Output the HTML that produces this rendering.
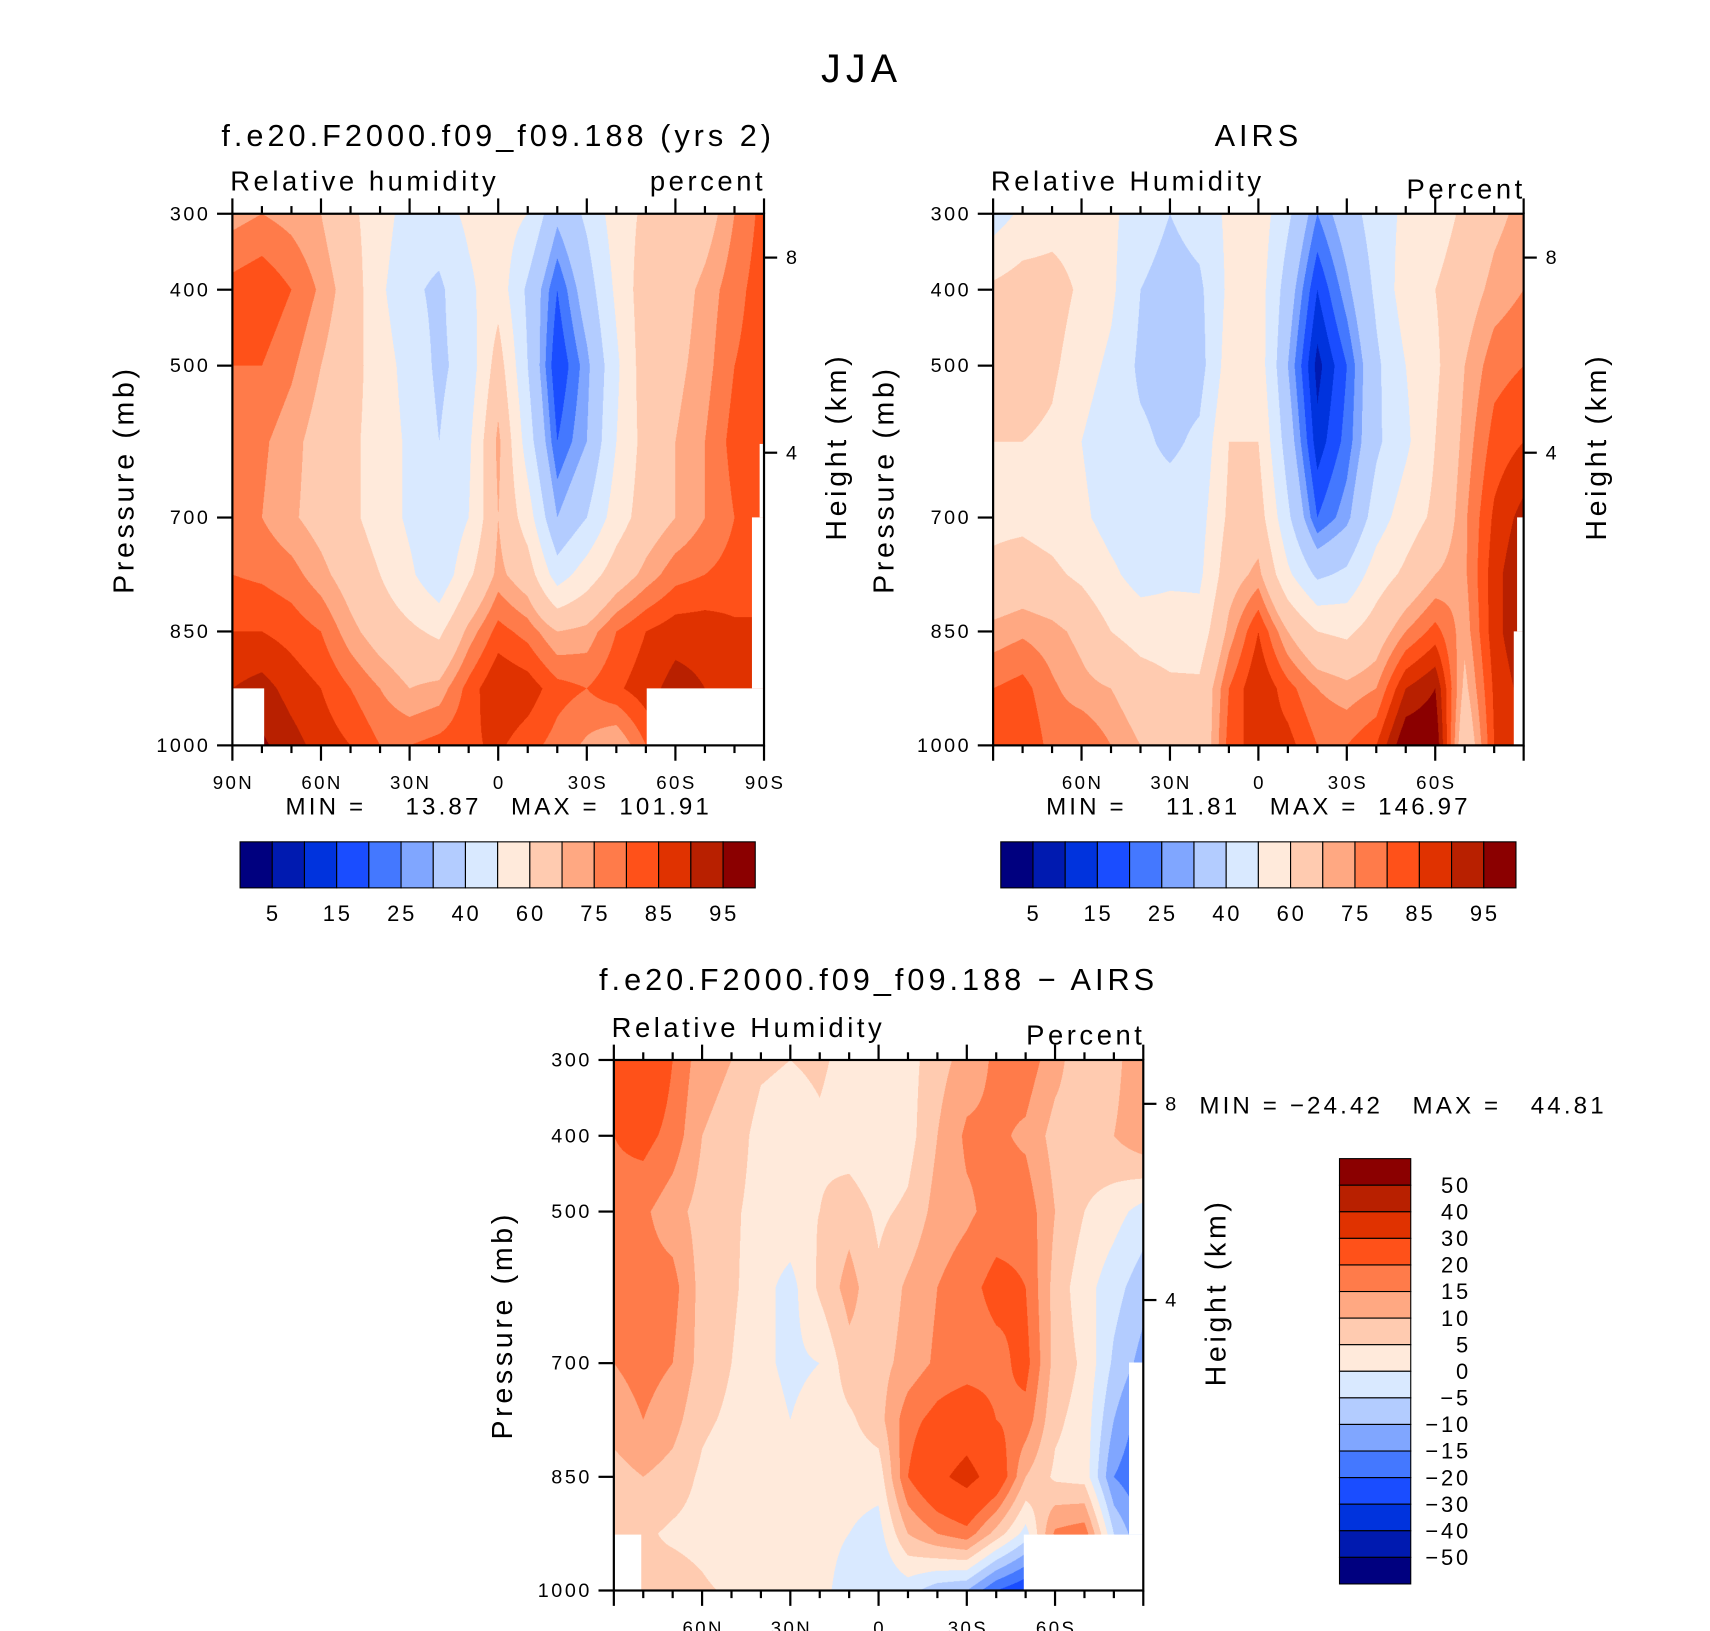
<!DOCTYPE html>
<html><head><meta charset="utf-8">
<style>
html,body{margin:0;padding:0;background:#fff;}
body{width:1710px;height:1631px;overflow:hidden;position:relative;}
#stage{position:absolute;left:0;top:0;width:1560px;height:1488px;transform:scale(1.09615);transform-origin:0 0;}
canvas{position:absolute;}
svg{position:absolute;left:0;top:0;}
text{font-family:"Liberation Sans",sans-serif;fill:#000;white-space:pre;letter-spacing:0.13em;}
</style></head>
<body>
<div id="stage">
<canvas id="c1"></canvas>
<canvas id="c2"></canvas>
<canvas id="c3"></canvas>
<svg id="ov" width="1560" height="1488" viewBox="0 0 1560 1488"></svg>
</div>
<script>
// ---- data ----
const lats = [90,80,70,60,50,40,30,20,10,0,-10,-20,-30,-40,-50,-60,-70,-80,-90];
const levels = [300,400,500,600,700,775,850,925,1000];
const pTicks = [300,400,500,700,850,1000];
const latTickLabels = ["90N","60N","30N","0","30S","60S","90S"];
const latTickVals = [90,60,30,0,-30,-60,-90];
const rhBounds = [5,10,15,20,25,30,40,50,60,70,75,80,85,90,95];
const rhLabels = ["5","15","25","40","60","75","85","95"];
const diffBounds = [-50,-40,-30,-20,-15,-10,-5,0,5,10,15,20,30,40,50];
const diffLabels = ["50","40","30","20","15","10","5","0","\u22125","\u221210","\u221215","\u221220","\u221230","\u221240","\u221250"];
const colors = ["#00007f","#001ab0","#0033dd","#1a4dff","#4478ff","#80a6ff","#b3ccff","#d9e9ff","#ffeadb","#ffcbb0","#ffa882","#ff7b4a","#ff5119","#e03200","#b82000","#8b0000"];
// rows: per latitude, values at levels 300..1000
const modelRH = [
[73,82,80,77,77,80,85,90,93],[75,84,80,76,75,79,85,92,96],[73,80,76,72,71,77,83,88,92],
[70,74,70,67,67,72,80,85,88],[62,66,64,62,62,66,72,80,85],[55,52,55,56,56,60,66,75,80],
[45,42,46,48,48,52,62,70,80],[46,38,38,40,40,42,58,72,82],[52,48,44,48,50,58,72,82,84],
[55,56,65,72,70,72,82,90,86],[50,38,40,45,55,65,78,88,82],[32,20,15,20,30,45,70,82,78],
[42,35,28,30,40,55,72,80,74],[55,52,48,50,55,65,80,84,70],[62,66,66,64,65,72,85,88,80],
[60,66,68,70,70,78,88,92,80],[66,72,73,75,75,80,88,90,80],[75,78,80,82,80,82,86,88,80],
[82,83,83,85,85,85,85,85,85]];
const airsRH = [
[45,62,65,60,58,62,72,80,82],[52,65,66,60,58,64,74,82,85],[55,65,62,58,56,62,72,76,78],
[55,58,54,50,52,58,68,72,80],[52,52,48,44,46,52,60,70,75],[45,40,38,42,44,46,56,65,70],
[40,36,36,38,45,48,55,62,66],[44,38,36,42,46,48,54,62,62],[52,52,55,60,62,66,72,80,82],
[56,55,56,60,65,72,85,90,88],[42,35,30,35,42,52,70,82,87],[25,15,8,12,20,38,60,75,80],
[35,28,20,22,28,42,58,72,80],[45,42,38,38,45,55,65,75,85],[52,55,50,48,55,62,75,90,100],
[55,60,58,60,62,70,82,95,100],[62,66,70,72,74,74,72,68,62],[68,72,78,82,86,88,88,86,85],
[72,75,80,85,92,95,95,92,90]];
const diffRH = [
[30,20,18,15,15,12,8,5,5],[28,22,16,17,17,15,10,6,6],[20,18,12,17,15,12,8,4,8],
[12,10,8,8,8,6,4,3,6],[10,8,6,6,5,4,2,0,4],[6,3,3,2,1,2,2,3,4],
[5,2,4,-2,-1,0,3,4,2],[6,4,5,6,0,2,4,2,2],[3,2,8,12,8,4,2,0,-3],
[2,0,4,6,8,8,2,-2,-5],[3,3,6,11,12,18,20,10,-3],[8,10,12,15,16,22,28,15,-8],
[12,16,14,18,17,25,33,18,-10],[16,16,17,22,18,20,26,8,-20],[18,14,18,20,22,18,10,-2,-25],
[12,8,10,8,8,6,4,16,-20],[6,8,5,2,4,3,3,18,10],[8,10,2,-3,-6,-10,-15,-5,0],
[15,14,-2,-8,-12,-18,-20,-15,-10]];

// ---- helpers ----
const svg = document.getElementById('ov');
const NS = 'http://www.w3.org/2000/svg';
function mk(tag, attrs){const e=document.createElementNS(NS,tag);for(const k in attrs)e.setAttribute(k,attrs[k]);svg.appendChild(e);return e;}
function txt(x,y,s,size,anchor,rot){const t=mk('text',{x:x,y:y,'font-size':size,'text-anchor':anchor||'middle'});if(rot)t.setAttribute('transform','rotate(-90 '+x+' '+y+')');t.textContent=s;return t;}
function bandIndex(v,b){let i=0;while(i<b.length&&v>=b[i])i++;return i;}
function hex2rgb(h){return [parseInt(h.substr(1,2),16),parseInt(h.substr(3,2),16),parseInt(h.substr(5,2),16)];}
const rgb = colors.map(hex2rgb);

function drawField(id,data,bounds,P){
  const c=document.getElementById(id);const S=2;
  c.style.left=P.x+'px';c.style.top=P.y+'px';c.style.width=P.w+'px';c.style.height=P.h+'px';
  c.width=P.w*S;c.height=P.h*S;const ctx=c.getContext('2d');
  const img=ctx.createImageData(c.width,c.height);
  for(let j=0;j<c.height;j++){
    const p=300+(j+0.5)/c.height*700;let r=0;while(r<levels.length-2&&p>levels[r+1])r++;
    const fy=(p-levels[r])/(levels[r+1]-levels[r]);
    for(let i=0;i<c.width;i++){
      const lx=(i+0.5)/c.width*(lats.length-1);let k=Math.min(Math.floor(lx),lats.length-2);const fx=lx-k;
      const v=(data[k][r]*(1-fx)+data[k+1][r]*fx)*(1-fy)+(data[k][r+1]*(1-fx)+data[k+1][r+1]*fx)*fy;
      const col=rgb[bandIndex(v,bounds)];const o=(j*c.width+i)*4;
      img.data[o]=col[0];img.data[o+1]=col[1];img.data[o+2]=col[2];img.data[o+3]=255;
    }
  }
  ctx.putImageData(img,0,0);
}
function xOf(P,lat){return P.x+(90-lat)/180*P.w;}
function yOf(P,p){return P.y+(p-300)/700*P.h;}

function axes(P,opt){
  (opt.masks||[]).forEach(m=>{const r=mk('rect',{x:m[0],y:m[1],width:m[2],height:m[3],fill:'#fff'});
    });
  const fr=mk('rect',{x:P.x,y:P.y,width:P.w,height:P.h,fill:'none',stroke:'#000','stroke-width':2});
  
  for(let lat=90;lat>=-90;lat-=10){
    const x=xOf(P,lat);const major=(lat%30===0);const L=major?14:7;
    mk('line',{x1:x,y1:P.y+P.h,x2:x,y2:P.y+P.h+L,stroke:'#000','stroke-width':2});
    mk('line',{x1:x,y1:P.y,x2:x,y2:P.y-L,stroke:'#000','stroke-width':2});
  }
  latTickVals.forEach((v,i)=>{if(opt.skipEnds&&(v===90||v===-90))return;
    const t=txt(xOf(P,v)+1,P.y+P.h+40,latTickLabels[i],17);
    });
  pTicks.forEach(p=>{const y=yOf(P,p);mk('line',{x1:P.x-14,y1:y,x2:P.x,y2:y,stroke:'#000','stroke-width':2});
    const t=txt(P.x-20,y+6,String(p),18,'end');});
  [[8,opt.y8],[4,opt.y4]].forEach(h=>{mk('line',{x1:P.x+P.w,y1:h[1],x2:P.x+P.w+12,y2:h[1],stroke:'#000','stroke-width':2});
    const t=txt(P.x+P.w+20,h[1]+6,String(h[0]),18,'start');});
  let t=txt(opt.ptx,P.y+P.h/2,'Pressure (mb)',26,'middle',true);
  t=txt(opt.htx,P.y+P.h/2-30,'Height (km)',26,'middle',true);
  t=txt(P.x+P.w/2,opt.titleY,opt.title,28);
  t=txt(P.x-2,P.y-21,opt.left,25,'start');
  t=txt(P.x+P.w+2,P.y-(opt.rightDy||21),opt.right,25,'end');
}
function hColorbar(x,y,w,h,cx,minmax){
  const bw=w/colors.length;
  colors.forEach((c,i)=>{const r=mk('rect',{x:x+i*bw,y:y,width:bw,height:h,fill:c,stroke:'#000','stroke-width':1});
    });
  rhLabels.forEach((s,i)=>{const t=txt(x+(2*i+1)*bw+1,y+h+30,s,20);});
  const t=txt(cx,y-25,minmax,22);
}

// ---- panels ----
const P1={x:212,y:195,w:485,h:485}, P2={x:906,y:195,w:484,h:485}, P3={x:560,y:967,w:483,h:484};
drawField('c1',modelRH,rhBounds,P1);
drawField('c2',airsRH,rhBounds,P2);
drawField('c3',diffRH,diffBounds,P3);

let t=txt(786,75,'JJA',36);

axes(P1,{masks:[[212,628,29,52],[590,628,107,52],[686,472,11,156],[693,405,4,67]],y8:235,y4:413,ptx:122,htx:772,titleY:133,
  title:'f.e20.F2000.f09_f09.188 (yrs 2)',left:'Relative humidity',right:'percent'});
axes(P2,{skipEnds:true,masks:[[1384,472,6,104],[1381,576,9,104]],y8:235,y4:413,ptx:815,htx:1465,titleY:133,
  title:'AIRS',left:'Relative Humidity',right:'Percent',rightDy:14});
axes(P3,{skipEnds:true,masks:[[560,1400,25,51],[934,1400,109,51],[1030,1243,13,157]],y8:1007,y4:1186,ptx:467,htx:1118,titleY:903,
  title:'f.e20.F2000.f09_f09.188 \u2212 AIRS',left:'Relative Humidity',right:'Percent',rightDy:14});

hColorbar(219,768,470,42,455,'MIN =    13.87   MAX =  101.91');
hColorbar(913,768,470,42,1148,'MIN =    11.81   MAX =  146.97');

// vertical colorbar for difference
(function(){const x=1222,y=1057,w=65,h=388,bh=h/colors.length;
  for(let i=0;i<colors.length;i++){const r=mk('rect',{x:x,y:y+i*bh,width:w,height:bh,fill:colors[colors.length-1-i],stroke:'#000','stroke-width':1});
    }
  diffLabels.forEach((s,i)=>{const tt=txt(1342,y+(i+1)*bh+7,s,20,'end');});
  const m=txt(1280,1016,'MIN = \u221224.42   MAX =   44.81',22);
})();
</script>
</body></html>
